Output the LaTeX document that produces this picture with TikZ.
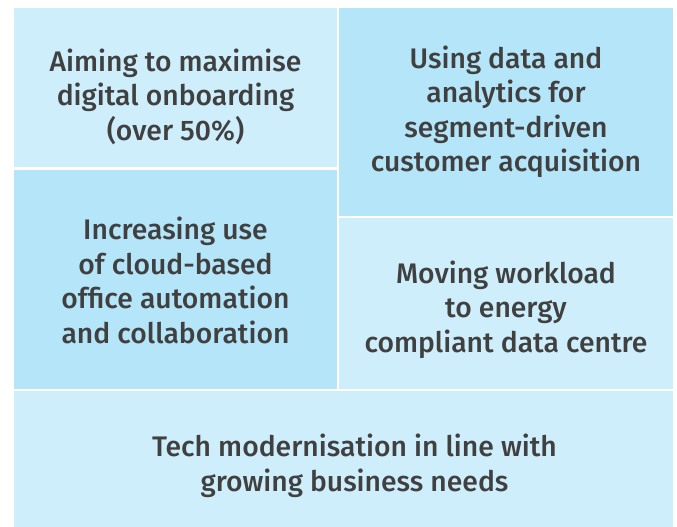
\documentclass[tikz,border=0pt]{standalone}
\usepackage{fontspec}
\setmainfont{Fira Sans}[UprightFont=* Medium]
\usepackage{tikz}
\definecolor{paleblue}{RGB}{205,238,250}
\definecolor{skyblue}{RGB}{180,229,249}
\definecolor{inkgrey}{RGB}{64,64,64}

\begin{document}
\begin{tikzpicture}[x=1pt,y=-1pt,
    panel/.style={inner sep=0pt,draw=none},
    caption/.style={inner sep=0pt,align=center,text=inkgrey,
      font=\fontsize{28.3}{34.5}\selectfont}]
      \useasboundingbox (0,0) rectangle (677,527);
      \fill[white] (0,0) rectangle (677,527);

      % panels
      \node[panel,fill=paleblue,minimum width=323pt,minimum height=159pt] (aim) at (175.5,87.5) {};
      \node[panel,fill=skyblue,minimum width=334pt,minimum height=208pt] (data) at (506,112) {};
      \node[panel,fill=skyblue,minimum width=323pt,minimum height=219pt] (cloud) at (175.5,279.5) {};
      \node[panel,fill=paleblue,minimum width=334pt,minimum height=171pt] (energy) at (506,303.5) {};
      \node[panel,fill=paleblue,minimum width=659pt,minimum height=136pt] (tech) at (343.5,459) {};

      % texts
      \node[caption] (aimtext) at ([yshift=-9pt]aim.center)
        {Aiming to maximise\\digital onboarding\\(over 50\%)};
      \node[caption] (datatext) at (data.center)
        {Using data and\\analytics for\\segment-driven\\customer acquisition};
      \node[caption] (cloudtext) at ([yshift=-1pt]cloud.center)
        {Increasing use\\of cloud-based\\office automation\\and collaboration};
      \node[caption] (energytext) at ([yshift=-6pt]energy.center)
        {Moving workload\\to energy\\compliant data centre};
      \node[caption] (techtext) at ([xshift=11pt,yshift=-7pt]tech.center)
        {Tech modernisation in line with\\growing business needs};
    \end{tikzpicture}
\end{document}
